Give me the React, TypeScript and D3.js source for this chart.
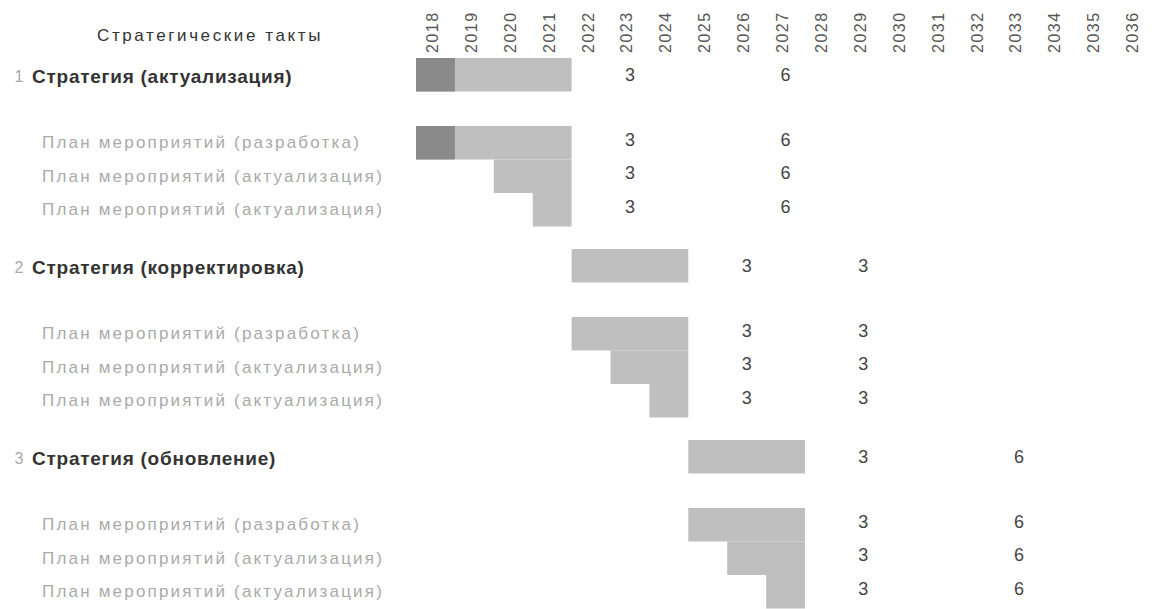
import React from "react";
import * as d3 from "d3";

const years = ["2018","2019","2020","2021","2022","2023","2024","2025","2026","2027","2028","2029","2030","2031","2032","2033","2034","2035","2036"];
const headerTitle = "Стратегические такты";
const stageNumbers = ["1", "2", "3"];
const stageTitles = ["Стратегия (актуализация)", "Стратегия (корректировка)", "Стратегия (обновление)"];
const stageStart = [2018, 2022, 2025];
const stageEnd = [2021, 2024, 2027];
const planTitles = [
  ["План мероприятий (разработка)", "План мероприятий (актуализация)", "План мероприятий (актуализация)"],
  ["План мероприятий (разработка)", "План мероприятий (актуализация)", "План мероприятий (актуализация)"],
  ["План мероприятий (разработка)", "План мероприятий (актуализация)", "План мероприятий (актуализация)"],
];
const planStart = [[2018, 2020, 2021], [2022, 2023, 2024], [2025, 2026, 2027]];
const markYears = [[2023, 2027], [2026, 2029], [2029, 2033]];
const markValues = [[3, 6], [3, 3], [3, 6]];
const accentYears = [2018]; // darker cell in first stage (strategy + first plan)

const W = 1158, H = 609;

export default function App() {
  const x = d3.scaleBand<string>().domain(years).range([416, 416 + years.length * 38.9]).padding(0);
  const g = d3.scaleBand<string>().domain(stageNumbers).range([58, 58 + 3 * 191]).padding(0);
  const rowH = 33.5;
  const subOffset = 68;
  const bw = x.bandwidth();
  const cx = (yr: number) => (x(String(yr)) as number) + bw / 2;

  const font = "'Liberation Sans', Arial, sans-serif";
  const barFill = "#bfbfbf";
  const accentFill = "#8a8a8a";

  const barCells = (start: number, end: number, top: number, key: string, accent: boolean) => {
    const cells = years.map(Number).filter((yr) => yr >= start && yr <= end);
    return (
      <g key={key}>
        <rect x={x(String(start))} y={top} width={(x(String(end)) as number) + bw - (x(String(start)) as number)} height={rowH} fill={barFill} />
        {accent && cells.filter((yr) => accentYears.includes(yr)).map((yr) => (
          <rect key={yr} x={x(String(yr))} y={top} width={bw} height={rowH} fill={accentFill} />
        ))}
      </g>
    );
  };

  const marks = (si: number, top: number, key: string) => (
    <g key={key}>
      {markYears[si].map((yr, j) => (
        <text key={j} x={cx(yr)} y={top + rowH / 2} textAnchor="middle" dominantBaseline="central"
          fontFamily={font} fontSize={18} fill="#444">{markValues[si][j]}</text>
      ))}
    </g>
  );

  return (
    <svg width={W} height={H} style={{ position: "absolute", left: 0, top: 0, background: "#fff" }}>
      <text x={210} y={35} textAnchor="middle" dominantBaseline="central" fontFamily={font} fontSize={17}
        letterSpacing={2.6} fill="#333">{headerTitle}</text>
      {years.map((yr) => (
        <text key={yr} transform={`translate(${cx(Number(yr)) - 3},53) rotate(-90)`} textAnchor="start"
          dominantBaseline="central" fontFamily={font} fontSize={16} letterSpacing={1.5} fill="#555">{yr}</text>
      ))}
      {stageNumbers.map((sn, si) => {
        const top = g(sn) as number;
        return (
          <g key={sn}>
            {barCells(stageStart[si], stageEnd[si], top, "main", si === 0)}
            <text x={19} y={top + rowH / 2 + 2} textAnchor="middle" dominantBaseline="central" fontFamily={font}
              fontSize={16} fill="#aaa">{sn}</text>
            <text x={32} y={top + rowH / 2 + 2} dominantBaseline="central" fontFamily={font} fontSize={19}
              fontWeight="bold" letterSpacing={0.75} fill="#333">{stageTitles[si]}</text>
            {marks(si, top, "mm")}
            {planTitles[si].map((pt, k) => {
              const pTop = top + subOffset + k * rowH;
              return (
                <g key={k}>
                  {barCells(planStart[si][k], stageEnd[si], pTop, "b", si === 0 && k === 0)}
                  <text x={42} y={pTop + rowH / 2} dominantBaseline="central" fontFamily={font} fontSize={17}
                    letterSpacing={2.2} fill="#aaa">{pt}</text>
                  {marks(si, pTop - 3, "m")}
                </g>
              );
            })}
          </g>
        );
      })}
    </svg>
  );
}
